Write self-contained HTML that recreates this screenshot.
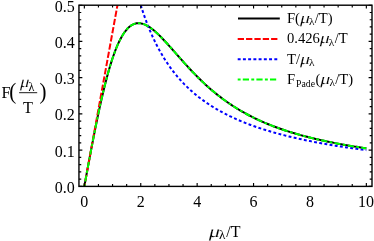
<!DOCTYPE html>
<html><head><meta charset="utf-8"><style>
html,body{margin:0;padding:0;background:#fff;}
svg{display:block;font-family:"Liberation Serif",serif;will-change:transform;}
</style></head><body>
<svg width="374" height="241" viewBox="0 0 374 241">
<rect width="374" height="241" fill="#fff"/>
<defs><clipPath id="c"><rect x="78.95" y="5.2" width="293.05" height="181.20000000000002"/></clipPath></defs>
<g clip-path="url(#c)" fill="none" stroke-linejoin="round">
<path d="M84.35,186.40 L85.76,178.69 L87.17,171.02 L88.58,163.41 L89.99,155.86 L91.40,148.41 L92.81,141.07 L94.22,133.86 L95.63,126.79 L97.04,119.88 L98.45,113.15 L99.86,106.61 L101.27,100.28 L102.68,94.17 L104.09,88.29 L105.50,82.65 L106.91,77.26 L108.32,72.13 L109.73,67.25 L111.14,62.65 L112.55,58.31 L113.96,54.24 L115.37,50.45 L116.78,46.93 L118.19,43.67 L119.60,40.68 L121.01,37.96 L122.42,35.49 L123.83,33.27 L125.24,31.29 L126.65,29.55 L128.06,28.05 L129.47,26.76 L130.88,25.68 L132.29,24.81 L133.70,24.14 L135.11,23.65 L136.52,23.34 L137.93,23.19 L139.34,23.20 L140.75,23.36 L142.16,23.66 L143.57,24.09 L144.98,24.64 L146.39,25.31 L147.80,26.08 L149.21,26.95 L150.62,27.91 L152.03,28.95 L153.44,30.07 L154.85,31.25 L156.26,32.50 L157.67,33.80 L159.08,35.15 L160.49,36.55 L161.90,37.98 L163.31,39.45 L164.72,40.95 L166.13,42.48 L167.54,44.03 L168.95,45.59 L170.36,47.17 L171.77,48.75 L173.18,50.35 L174.59,51.95 L176.00,53.55 L177.41,55.15 L178.82,56.75 L180.23,58.34 L181.64,59.93 L183.05,61.51 L184.46,63.07 L185.87,64.63 L187.28,66.17 L188.69,67.70 L190.10,69.21 L191.51,70.71 L192.92,72.19 L194.33,73.65 L195.74,75.10 L197.15,76.52 L198.56,77.93 L199.97,79.32 L201.38,80.68 L202.79,82.03 L204.20,83.36 L205.61,84.66 L207.02,85.95 L208.43,87.21 L209.84,88.45 L211.25,89.67 L212.66,90.87 L214.07,92.06 L215.48,93.22 L216.89,94.35 L218.30,95.47 L219.71,96.57 L221.12,97.65 L222.53,98.71 L223.94,99.75 L225.35,100.78 L226.76,101.78 L228.17,102.76 L229.58,103.73 L230.99,104.68 L232.40,105.61 L233.81,106.52 L235.22,107.41 L236.63,108.29 L238.04,109.16 L239.45,110.00 L240.86,110.83 L242.27,111.65 L243.68,112.45 L245.09,113.23 L246.50,114.00 L247.91,114.75 L249.32,115.50 L250.73,116.22 L252.14,116.94 L253.55,117.64 L254.96,118.33 L256.37,119.00 L257.78,119.66 L259.19,120.31 L260.60,120.95 L262.01,121.58 L263.42,122.20 L264.83,122.80 L266.24,123.39 L267.65,123.98 L269.06,124.55 L270.47,125.11 L271.88,125.67 L273.29,126.21 L274.70,126.74 L276.11,127.27 L277.52,127.78 L278.93,128.29 L280.34,128.79 L281.75,129.28 L283.16,129.76 L284.57,130.23 L285.98,130.70 L287.39,131.15 L288.80,131.60 L290.21,132.04 L291.62,132.48 L293.03,132.91 L294.44,133.33 L295.85,133.74 L297.26,134.15 L298.67,134.55 L300.08,134.95 L301.49,135.34 L302.90,135.72 L304.31,136.10 L305.72,136.47 L307.13,136.84 L308.54,137.20 L309.95,137.55 L311.36,137.90 L312.77,138.24 L314.18,138.58 L315.59,138.92 L317.00,139.25 L318.41,139.57 L319.82,139.89 L321.23,140.21 L322.64,140.52 L324.05,140.82 L325.46,141.13 L326.87,141.43 L328.28,141.72 L329.69,142.01 L331.10,142.30 L332.51,142.58 L333.92,142.86 L335.33,143.13 L336.74,143.40 L338.15,143.67 L339.56,143.93 L340.97,144.19 L342.38,144.45 L343.79,144.70 L345.20,144.95 L346.61,145.20 L348.02,145.45 L349.43,145.69 L350.84,145.93 L352.25,146.16 L353.66,146.39 L355.07,146.62 L356.48,146.85 L357.89,147.07 L359.30,147.30 L360.71,147.51 L362.12,147.73 L363.53,147.94 L364.94,148.16 L366.35,148.36" stroke="#000" stroke-width="2"/>
<path d="M84.35,186.40 L100.90,95.80 L117.45,5.20" stroke="#f00" stroke-width="2" stroke-dasharray="6.3,2.05" stroke-dashoffset="2.98"/>
<path d="M140.75,5.20 L142.16,9.62 L143.57,13.83 L144.98,17.84 L146.39,21.67 L147.80,25.33 L149.21,28.83 L150.62,32.19 L152.03,35.40 L153.44,38.48 L154.85,41.44 L156.26,44.28 L157.67,47.02 L159.08,49.65 L160.49,52.18 L161.90,54.62 L163.31,56.97 L164.72,59.24 L166.13,61.43 L167.54,63.55 L168.95,65.60 L170.36,67.58 L171.77,69.50 L173.18,71.35 L174.59,73.15 L176.00,74.89 L177.41,76.58 L178.82,78.22 L180.23,79.81 L181.64,81.36 L183.05,82.86 L184.46,84.32 L185.87,85.73 L187.28,87.11 L188.69,88.45 L190.10,89.76 L191.51,91.03 L192.92,92.27 L194.33,93.48 L195.74,94.65 L197.15,95.80 L198.56,96.92 L199.97,98.01 L201.38,99.07 L202.79,100.11 L204.20,101.13 L205.61,102.12 L207.02,103.09 L208.43,104.04 L209.84,104.96 L211.25,105.87 L212.66,106.75 L214.07,107.62 L215.48,108.46 L216.89,109.29 L218.30,110.11 L219.71,110.90 L221.12,111.68 L222.53,112.44 L223.94,113.19 L225.35,113.92 L226.76,114.64 L228.17,115.34 L229.58,116.03 L230.99,116.71 L232.40,117.37 L233.81,118.02 L235.22,118.66 L236.63,119.29 L238.04,119.90 L239.45,120.51 L240.86,121.10 L242.27,121.69 L243.68,122.26 L245.09,122.82 L246.50,123.37 L247.91,123.92 L249.32,124.45 L250.73,124.98 L252.14,125.49 L253.55,126.00 L254.96,126.50 L256.37,126.99 L257.78,127.47 L259.19,127.95 L260.60,128.42 L262.01,128.88 L263.42,129.33 L264.83,129.78 L266.24,130.21 L267.65,130.65 L269.06,131.07 L270.47,131.49 L271.88,131.90 L273.29,132.31 L274.70,132.71 L276.11,133.11 L277.52,133.49 L278.93,133.88 L280.34,134.26 L281.75,134.63 L283.16,135.00 L284.57,135.36 L285.98,135.71 L287.39,136.07 L288.80,136.41 L290.21,136.76 L291.62,137.09 L293.03,137.43 L294.44,137.76 L295.85,138.08 L297.26,138.40 L298.67,138.72 L300.08,139.03 L301.49,139.34 L302.90,139.64 L304.31,139.94 L305.72,140.23 L307.13,140.53 L308.54,140.82 L309.95,141.10 L311.36,141.38 L312.77,141.66 L314.18,141.93 L315.59,142.20 L317.00,142.47 L318.41,142.74 L319.82,143.00 L321.23,143.26 L322.64,143.51 L324.05,143.76 L325.46,144.01 L326.87,144.26 L328.28,144.50 L329.69,144.74 L331.10,144.98 L332.51,145.22 L333.92,145.45 L335.33,145.68 L336.74,145.91 L338.15,146.13 L339.56,146.36 L340.97,146.58 L342.38,146.79 L343.79,147.01 L345.20,147.22 L346.61,147.43 L348.02,147.64 L349.43,147.85 L350.84,148.05 L352.25,148.25 L353.66,148.45 L355.07,148.65 L356.48,148.85 L357.89,149.04 L359.30,149.23 L360.71,149.42 L362.12,149.61 L363.53,149.79 L364.94,149.98 L366.35,150.16" stroke="#00f" stroke-width="2" stroke-dasharray="2.9,2.33"/>
<path d="M84.35,186.40 L85.76,178.69 L87.17,171.02 L88.58,163.41 L89.99,155.86 L91.40,148.41 L92.81,141.07 L94.22,133.86 L95.63,126.79 L97.04,119.88 L98.45,113.15 L99.86,106.61 L101.27,100.28 L102.68,94.17 L104.09,88.29 L105.50,82.65 L106.91,77.26 L108.32,72.13 L109.73,67.25 L111.14,62.65 L112.55,58.31 L113.96,54.24 L115.37,50.45 L116.78,46.93 L118.19,43.67 L119.60,40.68 L121.01,37.96 L122.42,35.49 L123.83,33.27 L125.24,31.29 L126.65,29.55 L128.06,28.05 L129.47,26.76 L130.88,25.68 L132.29,24.81 L133.70,24.14 L135.11,23.65 L136.52,23.34 L137.93,23.19 L139.34,23.20 L140.75,23.36 L142.16,23.66 L143.57,24.09 L144.98,24.64 L146.39,25.31 L147.80,26.08 L149.21,26.95 L150.62,27.91 L152.03,28.95 L153.44,30.07 L154.85,31.25 L156.26,32.50 L157.67,33.80 L159.08,35.15 L160.49,36.55 L161.90,37.98 L163.31,39.45 L164.72,40.95 L166.13,42.48 L167.54,44.03 L168.95,45.59 L170.36,47.17 L171.77,48.75 L173.18,50.35 L174.59,51.95 L176.00,53.55 L177.41,55.15 L178.82,56.75 L180.23,58.34 L181.64,59.93 L183.05,61.51 L184.46,63.07 L185.87,64.63 L187.28,66.17 L188.69,67.70 L190.10,69.21 L191.51,70.71 L192.92,72.19 L194.33,73.65 L195.74,75.10 L197.15,76.52 L198.56,77.93 L199.97,79.32 L201.38,80.68 L202.79,82.03 L204.20,83.36 L205.61,84.66 L207.02,85.95 L208.43,87.21 L209.84,88.45 L211.25,89.67 L212.66,90.87 L214.07,92.06 L215.48,93.22 L216.89,94.35 L218.30,95.47 L219.71,96.57 L221.12,97.65 L222.53,98.71 L223.94,99.75 L225.35,100.78 L226.76,101.78 L228.17,102.76 L229.58,103.73 L230.99,104.68 L232.40,105.61 L233.81,106.52 L235.22,107.41 L236.63,108.29 L238.04,109.16 L239.45,110.00 L240.86,110.83 L242.27,111.65 L243.68,112.45 L245.09,113.23 L246.50,114.00 L247.91,114.75 L249.32,115.50 L250.73,116.22 L252.14,116.94 L253.55,117.64 L254.96,118.33 L256.37,119.00 L257.78,119.66 L259.19,120.31 L260.60,120.95 L262.01,121.58 L263.42,122.20 L264.83,122.80 L266.24,123.39 L267.65,123.98 L269.06,124.55 L270.47,125.11 L271.88,125.67 L273.29,126.21 L274.70,126.74 L276.11,127.27 L277.52,127.78 L278.93,128.29 L280.34,128.79 L281.75,129.28 L283.16,129.76 L284.57,130.23 L285.98,130.70 L287.39,131.15 L288.80,131.60 L290.21,132.04 L291.62,132.48 L293.03,132.91 L294.44,133.33 L295.85,133.74 L297.26,134.15 L298.67,134.55 L300.08,134.95 L301.49,135.34 L302.90,135.72 L304.31,136.10 L305.72,136.47 L307.13,136.84 L308.54,137.20 L309.95,137.55 L311.36,137.90 L312.77,138.24 L314.18,138.58 L315.59,138.92 L317.00,139.25 L318.41,139.57 L319.82,139.89 L321.23,140.21 L322.64,140.52 L324.05,140.82 L325.46,141.13 L326.87,141.43 L328.28,141.72 L329.69,142.01 L331.10,142.30 L332.51,142.58 L333.92,142.86 L335.33,143.13 L336.74,143.40 L338.15,143.67 L339.56,143.93 L340.97,144.19 L342.38,144.45 L343.79,144.70 L345.20,144.95 L346.61,145.20 L348.02,145.45 L349.43,145.69 L350.84,145.93 L352.25,146.16 L353.66,146.39 L355.07,146.62 L356.48,146.85 L357.89,147.07 L359.30,147.30 L360.71,147.51 L362.12,147.73 L363.53,147.94 L364.94,148.16 L366.35,148.36" stroke="#0f0" stroke-width="2" stroke-dasharray="2.9,2.2,6.2,2.3" stroke-dashoffset="0.03"/>
</g>
<rect x="78.95" y="5.2" width="293.05" height="181.20000000000002" fill="none" stroke="#000" stroke-width="1.4"/>
<path d="M84.35,186.4v-3.4M84.35,5.2v3.4M98.45,186.4v-2.3M98.45,5.2v2.3M112.55,186.4v-2.3M112.55,5.2v2.3M126.65,186.4v-2.3M126.65,5.2v2.3M140.75,186.4v-3.4M140.75,5.2v3.4M154.85,186.4v-2.3M154.85,5.2v2.3M168.95,186.4v-2.3M168.95,5.2v2.3M183.05,186.4v-2.3M183.05,5.2v2.3M197.15,186.4v-3.4M197.15,5.2v3.4M211.25,186.4v-2.3M211.25,5.2v2.3M225.35,186.4v-2.3M225.35,5.2v2.3M239.45,186.4v-2.3M239.45,5.2v2.3M253.55,186.4v-3.4M253.55,5.2v3.4M267.65,186.4v-2.3M267.65,5.2v2.3M281.75,186.4v-2.3M281.75,5.2v2.3M295.85,186.4v-2.3M295.85,5.2v2.3M309.95,186.4v-3.4M309.95,5.2v3.4M324.05,186.4v-2.3M324.05,5.2v2.3M338.15,186.4v-2.3M338.15,5.2v2.3M352.25,186.4v-2.3M352.25,5.2v2.3M366.35,186.4v-3.4M366.35,5.2v3.4M78.95,186.40h3.4M372.0,186.40h-3.4M78.95,179.15h2.3M372.0,179.15h-2.3M78.95,171.90h2.3M372.0,171.90h-2.3M78.95,164.66h2.3M372.0,164.66h-2.3M78.95,157.41h2.3M372.0,157.41h-2.3M78.95,150.16h3.4M372.0,150.16h-3.4M78.95,142.91h2.3M372.0,142.91h-2.3M78.95,135.66h2.3M372.0,135.66h-2.3M78.95,128.42h2.3M372.0,128.42h-2.3M78.95,121.17h2.3M372.0,121.17h-2.3M78.95,113.92h3.4M372.0,113.92h-3.4M78.95,106.67h2.3M372.0,106.67h-2.3M78.95,99.42h2.3M372.0,99.42h-2.3M78.95,92.18h2.3M372.0,92.18h-2.3M78.95,84.93h2.3M372.0,84.93h-2.3M78.95,77.68h3.4M372.0,77.68h-3.4M78.95,70.43h2.3M372.0,70.43h-2.3M78.95,63.18h2.3M372.0,63.18h-2.3M78.95,55.94h2.3M372.0,55.94h-2.3M78.95,48.69h2.3M372.0,48.69h-2.3M78.95,41.44h3.4M372.0,41.44h-3.4M78.95,34.19h2.3M372.0,34.19h-2.3M78.95,26.94h2.3M372.0,26.94h-2.3M78.95,19.70h2.3M372.0,19.70h-2.3M78.95,12.45h2.3M372.0,12.45h-2.3M78.95,5.20h3.4M372.0,5.20h-3.4" stroke="#000" stroke-width="1.15" fill="none"/>
<g font-size="16px" fill="#000"><text x="84.35" y="207.2" text-anchor="middle">0</text><text x="140.75" y="207.2" text-anchor="middle">2</text><text x="197.15" y="207.2" text-anchor="middle">4</text><text x="253.55" y="207.2" text-anchor="middle">6</text><text x="309.95" y="207.2" text-anchor="middle">8</text><text x="365.95" y="207.2" text-anchor="middle">10</text><text x="74.7" y="192.80" text-anchor="end">0.0</text><text x="74.7" y="156.56" text-anchor="end">0.1</text><text x="74.7" y="120.32" text-anchor="end">0.2</text><text x="74.7" y="84.08" text-anchor="end">0.3</text><text x="74.7" y="47.84" text-anchor="end">0.4</text><text x="74.7" y="11.60" text-anchor="end">0.5</text></g>
<text transform="translate(208.10,236.50) skewX(-14) scale(1.3,1)" font-size="16.48px" stroke="#fff" stroke-width="0.1">μ</text><text x="218.98" y="238.90" font-size="13.12px">λ</text><text x="226.25" y="236.50" font-size="16.00px">/T</text>
<text x="1.6" y="98.1" font-size="16.3px">F</text>
<text font-size="21px" transform="translate(9.2,99.2) scale(1,1.08)">(</text>
<text font-size="21px" transform="translate(39.6,99.2) scale(1,1.08)">)</text>
<text transform="translate(19.20,86.90) skewX(-14) scale(1.12,1)" font-size="15.96px" stroke="#fff" stroke-width="0.1">μ</text><text x="28.48" y="91.09" font-size="12.09px">λ</text>
<line x1="19.1" x2="37.2" y1="92.7" y2="92.7" stroke="#000" stroke-width="0.9"/>
<text x="28.1" y="112.5" font-size="16.3px" text-anchor="middle">T</text>
<g fill="none" stroke-width="2">
<line x1="238" x2="279.8" y1="18.6" y2="18.6" stroke="#000"/>
<line x1="237.7" x2="279" y1="38.95" y2="38.95" stroke="#f00" stroke-dasharray="6.3,2.05"/>
<line x1="237.7" x2="279" y1="59.2" y2="59.2" stroke="#00f" stroke-dasharray="2.95,2.28"/>
<line x1="237.7" x2="278.4" y1="79.6" y2="79.6" stroke="#0f0" stroke-dasharray="2.9,2.2,6.2,2.3"/>
</g>
<g fill="#000"><text x="287.00" y="22.90" font-size="14.60px">F(</text><text transform="translate(299.18,22.90) skewX(-14) scale(1.25,1)" font-size="15.33px" stroke="#fff" stroke-width="0.1">μ</text><text x="308.95" y="25.24" font-size="11.39px">λ</text><text x="314.77" y="22.90" font-size="14.60px">/T)</text><text x="287.00" y="43.30" font-size="14.60px">0.426</text><text transform="translate(319.05,43.30) skewX(-14) scale(1.25,1)" font-size="15.33px" stroke="#fff" stroke-width="0.1">μ</text><text x="328.82" y="45.64" font-size="11.39px">λ</text><text x="334.64" y="43.30" font-size="14.60px">/T</text><text x="287.00" y="63.70" font-size="14.60px">T/</text><text transform="translate(299.18,63.70) skewX(-14) scale(1.25,1)" font-size="15.33px" stroke="#fff" stroke-width="0.1">μ</text><text x="308.95" y="66.04" font-size="11.39px">λ</text><text x="287.00" y="84.10" font-size="14.60px">F</text><text x="296.02" y="87.02" font-size="9.78px">Pade</text><text x="315.55" y="84.10" font-size="14.60px">(</text><text transform="translate(319.61,84.10) skewX(-14) scale(1.25,1)" font-size="15.33px" stroke="#fff" stroke-width="0.1">μ</text><text x="329.39" y="86.44" font-size="11.39px">λ</text><text x="335.21" y="84.10" font-size="14.60px">/T)</text></g>
</svg>
</body></html>
